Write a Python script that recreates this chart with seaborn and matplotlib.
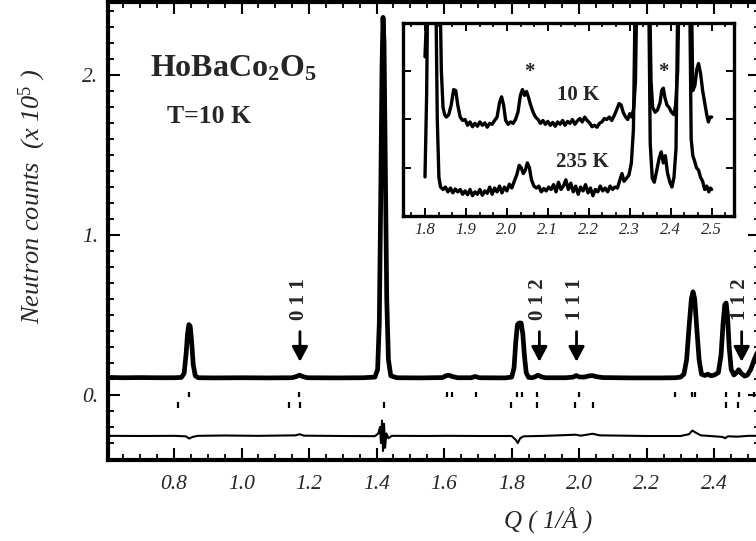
import matplotlib
matplotlib.use("Agg")
import matplotlib.pyplot as plt
import numpy as np
import pandas as pd
import seaborn as sns
from matplotlib.ticker import MultipleLocator, FixedLocator

# ---------------- data ----------------
q_obs = [0.604, 0.65, 0.70, 0.75, 0.80, 0.822, 0.830, 0.836, 0.840, 0.844, 0.848, 0.852, 0.857,
         0.863, 0.872, 0.92, 1.00, 1.08, 1.15, 1.163, 1.172, 1.182, 1.195, 1.28, 1.36, 1.395,
         1.403, 1.408, 1.412, 1.416, 1.419, 1.422, 1.426, 1.430, 1.435, 1.442, 1.46, 1.53,
         1.595, 1.605, 1.614, 1.625, 1.64, 1.68, 1.692, 1.704, 1.78, 1.800, 1.807, 1.812,
         1.817, 1.822, 1.828, 1.833, 1.838, 1.843, 1.850, 1.862, 1.870, 1.878, 1.887, 1.90,
         1.96, 1.982, 1.991, 2.000, 2.015, 2.030, 2.040, 2.052, 2.07, 2.15, 2.24, 2.285,
         2.300, 2.310, 2.318, 2.325, 2.332, 2.337, 2.342, 2.348, 2.355, 2.362, 2.372, 2.381,
         2.390, 2.400, 2.412, 2.420, 2.426, 2.431, 2.435, 2.439, 2.444, 2.450, 2.458, 2.466,
         2.472, 2.480, 2.490, 2.498, 2.508, 2.518, 2.540]
counts_obs = [0.110, 0.108, 0.109, 0.108, 0.108, 0.110, 0.135, 0.26, 0.38, 0.44, 0.43, 0.34, 0.19,
              0.12, 0.108, 0.107, 0.108, 0.107, 0.108, 0.116, 0.124, 0.115, 0.108, 0.107, 0.108, 0.112,
              0.16, 0.45, 1.2, 2.05, 2.36, 2.2, 1.4, 0.6, 0.22, 0.12, 0.108, 0.107,
              0.109, 0.12, 0.124, 0.115, 0.108, 0.108, 0.116, 0.108, 0.107, 0.112, 0.17, 0.33,
              0.44, 0.45, 0.45, 0.38, 0.24, 0.14, 0.11, 0.108, 0.115, 0.124, 0.114, 0.108,
              0.108, 0.112, 0.122, 0.113, 0.112, 0.12, 0.121, 0.114, 0.109, 0.107, 0.107, 0.108,
              0.112, 0.13, 0.22, 0.42, 0.60, 0.645, 0.60, 0.42, 0.22, 0.13, 0.122, 0.13,
              0.12, 0.125, 0.14, 0.25, 0.45, 0.565, 0.575, 0.50, 0.30, 0.16, 0.125, 0.14,
              0.158, 0.135, 0.118, 0.125, 0.16, 0.22, 0.33]

q_diff = [0.604, 0.70, 0.80, 0.835, 0.845, 0.855, 0.87, 0.95, 1.05, 1.16, 1.172, 1.185, 1.30,
          1.395, 1.405, 1.410, 1.413, 1.416, 1.419, 1.422, 1.425, 1.429, 1.435, 1.445, 1.55,
          1.61, 1.70, 1.80, 1.812, 1.818, 1.825, 1.835, 1.90, 1.99, 2.005, 2.04, 2.06, 2.20,
          2.30, 2.325, 2.335, 2.345, 2.36, 2.40, 2.425, 2.432, 2.44, 2.47, 2.50, 2.54]
counts_diff = [-0.255, -0.256, -0.255, -0.258, -0.272, -0.262, -0.255, -0.253, -0.255, -0.252,
               -0.245, -0.254, -0.256, -0.257, -0.24, -0.20, -0.30, -0.16, -0.35, -0.18, -0.33,
               -0.24, -0.27, -0.255, -0.256, -0.255, -0.256, -0.256, -0.28, -0.30, -0.27, -0.258,
               -0.255, -0.248, -0.254, -0.242, -0.252, -0.256, -0.256, -0.245, -0.222, -0.235,
               -0.252, -0.258, -0.262, -0.27, -0.258, -0.26, -0.255, -0.255]

bragg_row1 = [0.845, 1.169, 1.607, 1.622, 1.693, 1.815, 1.830, 1.875, 1.998, 2.284, 2.333,
              2.344, 2.434, 2.473, 2.518]
bragg_row2 = [0.813, 1.141, 1.173, 1.422, 1.798, 1.875, 1.987, 2.042, 2.434, 2.471]

arrow_q = [1.173, 1.882, 1.992, 2.481]
arrow_labels = ["0 1 1", "0 1 2", "1 1 1", "1 1 2"]

x_ticks = [0.8, 1.0, 1.2, 1.4, 1.6, 1.8, 2.0, 2.2, 2.4]
x_tick_labels = ["0.8", "1.0", "1.2", "1.4", "1.6", "1.8", "2.0", "2.2", "2.4"]
y_ticks = [0.0, 1.0, 2.0]
y_tick_labels = ["0.", "1.", "2."]

# inset: 10 K and 235 K patterns (arbitrary units)
q_10K = [1.800, 1.804, 1.808, 1.836, 1.840, 1.844, 1.848, 1.852, 1.858, 1.864, 1.870, 1.875,
         1.880, 1.886, 1.892, 1.898, 1.904, 1.910, 1.916, 1.922, 1.928, 1.934, 1.940, 1.946,
         1.952, 1.958, 1.964, 1.970, 1.976, 1.982, 1.987, 1.992, 1.997, 2.003, 2.009, 2.015,
         2.021, 2.027, 2.033, 2.038, 2.043, 2.048, 2.053, 2.058, 2.064, 2.070, 2.076, 2.082,
         2.088, 2.094, 2.100, 2.106, 2.112, 2.118, 2.124, 2.130, 2.136, 2.142, 2.148, 2.154,
         2.160, 2.166, 2.172, 2.178, 2.184, 2.190, 2.196, 2.202, 2.208, 2.214, 2.220, 2.226,
         2.232, 2.238, 2.244, 2.250, 2.256, 2.262, 2.268, 2.274, 2.279, 2.284, 2.290, 2.295,
         2.300, 2.305, 2.310, 2.314, 2.318, 2.348, 2.352, 2.356, 2.362, 2.368, 2.374, 2.378,
         2.382, 2.386, 2.391, 2.396, 2.402, 2.408, 2.412, 2.417, 2.421, 2.450, 2.454, 2.459,
         2.464, 2.468, 2.473, 2.478, 2.483, 2.488, 2.492, 2.496, 2.500]
val_10K = [3.3, 4.2, 5.0, 5.0, 3.0, 2.25, 2.1, 2.05, 2.1, 2.3, 2.62, 2.6,
           2.3, 2.05, 1.98, 2.0, 1.88, 1.95, 1.85, 1.92, 1.86, 1.95, 1.88, 1.93,
           1.84, 1.92, 1.9, 1.98, 2.05, 2.35, 2.47, 2.3, 1.98, 1.9, 1.95, 1.92,
           2.0, 2.15, 2.5, 2.62, 2.5, 2.58, 2.45, 2.3, 2.15, 2.05, 2.0, 1.92,
           1.98, 1.9, 1.96, 1.88, 1.94, 1.86, 1.95, 1.9, 1.98, 1.88, 1.96, 1.92,
           2.0, 1.9, 1.97, 2.02, 1.95, 2.05, 1.98, 1.93, 1.85, 1.88, 1.84, 1.92,
           1.95, 2.02, 2.0, 2.05, 1.98, 2.08, 2.2, 2.33, 2.3, 2.15, 2.05, 2.0,
           2.12, 2.05, 2.25, 2.8, 5.0, 5.0, 2.8, 2.25, 2.15, 2.2, 2.35, 2.6,
           2.65, 2.45, 2.3, 2.25, 2.15, 2.1, 2.3, 3.0, 5.0, 5.0, 2.6, 2.7,
           3.05, 3.16, 2.95, 2.6, 2.35, 2.1, 1.95, 2.05, 2.05]

q_235K = [1.800, 1.804, 1.807, 1.826, 1.830, 1.834, 1.838, 1.844, 1.850, 1.856, 1.862, 1.868,
          1.874, 1.880, 1.886, 1.892, 1.898, 1.904, 1.910, 1.916, 1.922, 1.928, 1.934, 1.940,
          1.946, 1.952, 1.958, 1.964, 1.970, 1.976, 1.982, 1.988, 1.994, 2.000, 2.006, 2.012,
          2.018, 2.024, 2.030, 2.035, 2.040, 2.045, 2.050, 2.055, 2.060, 2.066, 2.072, 2.078,
          2.084, 2.090, 2.096, 2.102, 2.108, 2.114, 2.120, 2.126, 2.132, 2.138, 2.144, 2.150,
          2.156, 2.162, 2.168, 2.174, 2.180, 2.186, 2.192, 2.198, 2.204, 2.210, 2.216, 2.222,
          2.228, 2.234, 2.240, 2.246, 2.252, 2.258, 2.264, 2.270, 2.276, 2.281, 2.286, 2.292,
          2.298, 2.304, 2.309, 2.314, 2.346, 2.350, 2.355, 2.360, 2.366, 2.372, 2.377, 2.382,
          2.387, 2.392, 2.398, 2.403, 2.408, 2.413, 2.418, 2.446, 2.450, 2.454, 2.458, 2.463,
          2.468, 2.473, 2.478, 2.483, 2.488, 2.493, 2.497, 2.500]
val_235K = [0.81, 2.5, 5.0, 5.0, 2.0, 0.8, 0.6, 0.55, 0.6, 0.5, 0.58, 0.48,
            0.56, 0.5, 0.55, 0.45, 0.52, 0.44, 0.55, 0.42, 0.5, 0.45, 0.55, 0.43,
            0.52, 0.47, 0.6, 0.45, 0.58, 0.5, 0.62, 0.48, 0.6, 0.52, 0.66, 0.58,
            0.72, 0.85, 1.05, 1.0, 0.88, 0.95, 1.1, 1.0, 0.75, 0.62, 0.58, 0.62,
            0.5, 0.57, 0.52, 0.6, 0.55, 0.65, 0.5, 0.7, 0.55, 0.62, 0.75, 0.55,
            0.68, 0.5, 0.62, 0.45, 0.6, 0.52, 0.65, 0.48, 0.58, 0.42, 0.55, 0.5,
            0.62, 0.52, 0.58, 0.5, 0.62, 0.55, 0.6, 0.58, 0.75, 0.88, 0.72, 0.78,
            0.85, 1.1, 1.8, 5.0, 5.0, 1.5, 0.78, 0.7, 0.95, 1.2, 1.33, 1.1,
            1.25, 0.9, 0.7, 0.6, 0.8, 1.4, 5.0, 5.0, 1.6, 1.25, 1.15, 1.0,
            0.95, 0.8, 0.72, 0.55, 0.62, 0.5, 0.58, 0.55]

inset_x_ticks = [1.8, 1.9, 2.0, 2.1, 2.2, 2.3, 2.4, 2.5]
inset_x_tick_labels = ["1.8", "1.9", "2.0", "2.1", "2.2", "2.3", "2.4", "2.5"]
inset_y_ticks = [1, 2, 3]

# ---------------- style ----------------
sns.set_style("ticks")
plt.rcParams['font.family'] = ['Liberation Serif', 'DejaVu Serif']
plt.rcParams['mathtext.fontset'] = 'custom'
plt.rcParams['mathtext.rm'] = 'Liberation Serif'
plt.rcParams['mathtext.it'] = 'Liberation Serif:italic'
plt.rcParams['mathtext.bf'] = 'Liberation Serif:bold'

W, H = 756, 541
fig = plt.figure(figsize=(W / 100, H / 100), dpi=100)

# main axes (right edge runs just past the picture, as in the reference)
ax = fig.add_axes([108 / W, 1 - 460 / H, (760 - 108) / W, (460 - 1.5) / H])

main_df = pd.DataFrame({"Q": q_obs, "counts": counts_obs})
diff_df = pd.DataFrame({"Q": q_diff, "counts": counts_diff})
sns.lineplot(data=main_df, x="Q", y="counts", ax=ax, color="black", lw=3.4,
             estimator=None, sort=False)
sns.lineplot(data=diff_df, x="Q", y="counts", ax=ax, color="black", lw=1.5,
             estimator=None, sort=False)
ax.vlines(bragg_row1, -0.013, 0.019, color="black", lw=1.6)
ax.vlines(bragg_row2, -0.081, -0.045, color="black", lw=1.6)

ax.set_xlim(0.6046, 2.5353)
ax.set_ylim(-0.406, 2.459)
ax.set_xlabel("")
ax.set_ylabel("")
ax.xaxis.set_major_locator(FixedLocator(x_ticks))
ax.set_xticklabels(x_tick_labels, fontstyle="italic", fontsize=15.5)
ax.yaxis.set_major_locator(FixedLocator(y_ticks))
ax.set_yticklabels(y_tick_labels, fontstyle="italic", fontsize=15.5)
ax.xaxis.set_minor_locator(MultipleLocator(0.05))
ax.yaxis.set_minor_locator(MultipleLocator(0.1))
ax.tick_params(which="both", direction="in", top=True, right=True, color="black")
ax.tick_params(which="major", length=8.5, width=1.5)
ax.tick_params(which="minor", length=4.5, width=1.3)
ax.tick_params(axis="x", which="major", pad=11)
ax.tick_params(axis="y", which="major", pad=7)
for s in ax.spines.values():
    s.set_linewidth(3)
    s.set_color("black")

# arrows with reflection labels
for q, lbl in zip(arrow_q, arrow_labels):
    ax.annotate("", xy=(q, 0.208), xytext=(q, 0.396),
                arrowprops=dict(arrowstyle="-|>,head_length=0.45,head_width=0.24",
                                color="black", lw=2, mutation_scale=20,
                                shrinkA=0, shrinkB=0))
    ax.text(q - 0.004, 0.60, lbl, rotation=90, ha="center", va="center",
            fontsize=15, fontweight="bold")

ax.text(0.729, 1.9875, r"HoBaCo$_\mathbf{2}$O$_\mathbf{5}$", fontsize=23,
        fontweight="bold", ha="left", va="baseline")
ax.text(0.779, 1.702, "T=10 K", fontsize=18.5, fontweight="bold",
        ha="left", va="baseline")

fig.text(32 / W, 1 - 196 / H, r"Neutron counts  (x 10$^{\mathit{5}}$ )", rotation=90,
         ha="center", va="center", fontstyle="italic", fontsize=19)
fig.text(548 / W, 1 - 520 / H, "Q ( 1/Å )", ha="center", va="center",
         fontstyle="italic", fontsize=18)

# inset
axin = fig.add_axes([403 / W, 1 - 216 / H, (734 - 403) / W, (216 - 23) / H])
axin.set_facecolor("white")
df10 = pd.DataFrame({"Q": q_10K, "I": val_10K})
df235 = pd.DataFrame({"Q": q_235K, "I": val_235K})
sns.lineplot(data=df10, x="Q", y="I", ax=axin, color="black", lw=2.4,
             estimator=None, sort=False)
sns.lineplot(data=df235, x="Q", y="I", ax=axin, color="black", lw=2.4,
             estimator=None, sort=False)
axin.set_xlim(1.7463, 2.5546)
axin.set_ylim(0, 4)
axin.set_xlabel("")
axin.set_ylabel("")
axin.xaxis.set_major_locator(FixedLocator(inset_x_ticks))
axin.set_xticklabels(inset_x_tick_labels, fontstyle="italic", fontsize=12)
axin.xaxis.set_minor_locator(MultipleLocator(0.1 / 3))
axin.yaxis.set_major_locator(FixedLocator(inset_y_ticks))
axin.set_yticklabels([])
axin.tick_params(which="both", direction="in", top=True, right=True, color="black")
axin.tick_params(which="major", length=6, width=1.4)
axin.tick_params(which="minor", length=3, width=1.2)
axin.tick_params(axis="x", which="major", pad=4)
for s in axin.spines.values():
    s.set_linewidth(2.4)
    s.set_color("black")

axin.text(2.1216, 2.40, "10 K", fontsize=15, fontweight="bold", ha="left", va="baseline")
axin.text(2.12, 1.02, "235 K", fontsize=15, fontweight="bold", ha="left", va="baseline")
axin.text(2.056, 2.99, "*", fontsize=15, fontweight="bold", ha="center", va="center")
axin.text(2.382, 2.99, "*", fontsize=15, fontweight="bold", ha="center", va="center")

fig.savefig("out.png", dpi=100)
